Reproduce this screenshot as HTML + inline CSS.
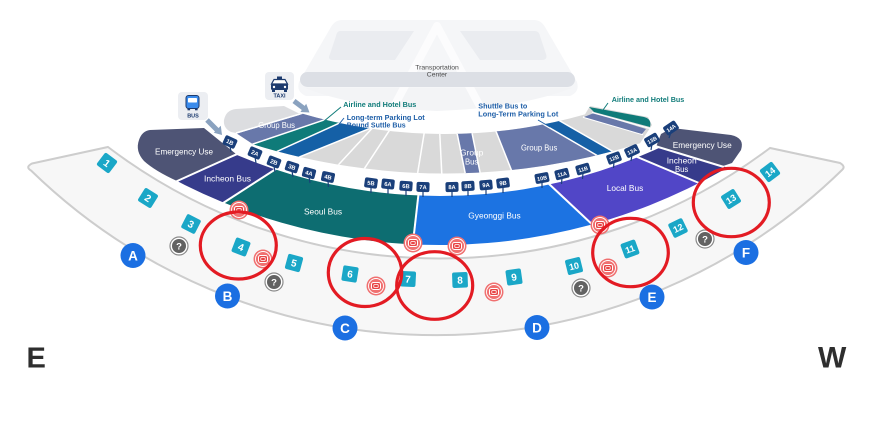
<!DOCTYPE html>
<html><head><meta charset="utf-8">
<style>
html,body{margin:0;padding:0;background:#fff;}
svg{display:block;}
</style></head><body>
<svg xmlns="http://www.w3.org/2000/svg" width="893" height="448" viewBox="0 0 893 448" font-family="'Liberation Sans', Arial, sans-serif">
<defs>
<clipPath id="ringL"><path d="M150,108.4 A524,524 0 0 0 740,101.6 L760,147.3 A573,573 0 0 1 130,153.9 Z"/></clipPath>
<clipPath id="ringU"><path d="M236,133 L300,113 A510,510 0 0 0 585,114.4 L590,106 L648,117 L652,125 L640,143.3 A645.5,645.5 0 0 1 253,144.3 Z"/></clipPath>
</defs>
<rect width="893" height="448" fill="#fff"/>

<!-- Transportation center -->
<path d="M342,20 L534,20 Q541,20 545,27 L577,82 Q580,92 570,96 L306,96 Q296,92 299,82 L331,27 Q335,20 342,20 Z" fill="#f5f6f8"/>
<path d="M340,31 L414,31 L395,60 L333,60 Q327,60 330,54 L336,36 Q337,31 340,31 Z" fill="#eaecf0"/>
<path d="M460,31 L535,31 Q539,31 540,36 L546,54 Q548,60 542,60 L480,60 Z" fill="#eaecf0"/>
<path d="M305,88 L572,88 Q520,108 437,111 Q355,108 305,88 Z" fill="#f3f4f6"/>
<path d="M437,26 L391,112 M437,26 L483,112" stroke="#fcfcfd" stroke-width="8" stroke-linecap="round" fill="none"/>
<rect x="300" y="72" width="275" height="15" rx="7.5" fill="#dcdfe5"/>
<text x="437" y="69.5" font-size="6.8" text-anchor="middle" fill="#4a4a4a">Transportation</text>
<text x="437" y="76.5" font-size="6.8" text-anchor="middle" fill="#4a4a4a">Center</text>

<!-- Walkway band -->
<path d="M32,163.5 L108,147 A549,549 0 0 0 770,148 L840,163 Q846,166.5 842,170 A581,581 0 0 1 31,170.5 Q25,167 32,163.5 Z" fill="#f7f7f7" stroke="#cdcdcd" stroke-width="2"/>

<!-- Upper ring -->
<g clip-path="url(#ringU)">
 <rect x="200" y="90" width="480" height="110" fill="#d9d9d9"/>
 <polygon points="216,139 320,108 340,114.6 240,148.4" fill="#6878aa"/>
 <polygon points="240,148.4 345,112.9 345,120.5 250,163.8" fill="#0f7b79"/>
 <polygon points="250,163.8 380,104.6 380,124.3 280,164.8" fill="#1560a6"/>
 <polygon points="456,128 471,128 482,182 467,182" fill="#6878aa"/>
 <polygon points="492.7,123 532,117.6 609,162.4 517.5,185.4" fill="#6878aa"/>
 <polygon points="532,117.6 549.6,115 622.4,157 609,162.4" fill="#1560a6"/>
 <g stroke="#fff" stroke-width="1.5">
  <line x1="216" y1="139" x2="320" y2="108"/>
  <line x1="240" y1="148.4" x2="340" y2="114.6"/>
  <line x1="250" y1="163.8" x2="380" y2="104.6"/>
  <line x1="280" y1="164.8" x2="380" y2="124.3"/>
  <line x1="377" y1="123" x2="329" y2="175"/>
  <line x1="393" y1="125" x2="358" y2="178.3"/>
  <line x1="425" y1="128" x2="416.5" y2="180"/>
  <line x1="439.5" y1="128" x2="442.2" y2="182"/>
  <line x1="456" y1="128" x2="467" y2="182"/>
  <line x1="471" y1="128" x2="482" y2="182"/>
  <line x1="492.7" y1="123" x2="517.5" y2="185.4"/>
  <line x1="532" y1="117.6" x2="609" y2="162.4"/>
  <line x1="549.6" y1="115" x2="622.4" y2="157"/>
  <line x1="583" y1="117" x2="643" y2="134.5"/>
 </g>
</g>
<path d="M594,113 L646,129 L642,134 L584,117 Z" fill="#6878aa"/>
<path d="M589,107 L644,117 Q652,119 650,127 L594,112 Z" fill="#0f7b79"/>
<line x1="592" y1="112.5" x2="650" y2="128.5" stroke="#fff" stroke-width="1.2"/>
<path d="M231,132 Q223,128 224,120 Q226,110 236,109 L284,106 L300,114 L236,133 Z" fill="#dcdde0"/>
<line x1="236" y1="133" x2="300" y2="114" stroke="#fff" stroke-width="1.5"/>

<!-- Lower colored ring -->
<g clip-path="url(#ringL)">
 <polygon points="150,191.2 260,145.7 300,153.4 200,217" fill="#363b8b"/>
 <polygon points="200,217 300,153.4 421.3,170 409.8,260" fill="#0d6d71"/>
 <polygon points="421.3,170 535,171 610,240.8 409.8,260" fill="#1c73e2"/>
 <polygon points="535,171 620,149.9 715,189.5 610,240.8" fill="#5146c7"/>
 <polygon points="620,149.9 640,142.2 745,172.8 715,189.5" fill="#363b8b"/>
</g>
<path d="M150,130 L204,128 L236,154 L177,181 Q155,171 144,161 Q135,151 139,140 Q142,131 150,130 Z" fill="#4e5475"/>
<path d="M656,147 L661,134 L672,128 L731,135 Q745,138 741,150 L732,163 L723,166 Z" fill="#4e5475"/>
<g stroke="#fff" stroke-width="2">
 <line x1="237" y1="154" x2="175" y2="182"/>
 <line x1="279" y1="167" x2="220" y2="205"/>
 <line x1="418.5" y1="194" x2="412.5" y2="247"/>
 <line x1="548" y1="183" x2="596" y2="228"/>
 <line x1="635" y1="156" x2="699" y2="183"/>
 <line x1="655" y1="146" x2="724" y2="167"/>
</g>

<!-- Region labels -->
<g fill="#fff" font-size="8.5">
 <text x="155" y="154.5" textLength="58" lengthAdjust="spacingAndGlyphs">Emergency Use</text>
 <text x="204" y="181.5" textLength="47" lengthAdjust="spacingAndGlyphs">Incheon Bus</text>
 <text x="304" y="214.3" textLength="38" lengthAdjust="spacingAndGlyphs">Seoul Bus</text>
 <text x="468.3" y="218.5" textLength="52.4" lengthAdjust="spacingAndGlyphs">Gyeonggi Bus</text>
 <text x="606.7" y="191" textLength="36.6" lengthAdjust="spacingAndGlyphs">Local Bus</text>
 <text x="666.7" y="163.3" textLength="30" lengthAdjust="spacingAndGlyphs">Incheon</text>
 <text x="675" y="172" textLength="13.3" lengthAdjust="spacingAndGlyphs">Bus</text>
 <text x="672.7" y="148" textLength="59" lengthAdjust="spacingAndGlyphs">Emergency Use</text>
 <text x="258.3" y="128" font-size="8" textLength="36.7" lengthAdjust="spacingAndGlyphs">Group Bus</text>
 <text x="521" y="150.5" font-size="8" textLength="36.3" lengthAdjust="spacingAndGlyphs">Group Bus</text>
 <text x="460" y="155.5" font-size="8" textLength="23.3" lengthAdjust="spacingAndGlyphs">Group</text>
 <text x="465" y="164.3" font-size="8" textLength="13.3" lengthAdjust="spacingAndGlyphs">Bus</text>
</g>

<!-- Stop labels -->
<g fill="#1a3f7a" font-size="5.8" font-weight="bold" text-anchor="middle">
 <g stroke="#1a3f7a" stroke-width="1.2">
  <line x1="230" y1="146" x2="231" y2="152"/>
  <line x1="255" y1="157" x2="256" y2="163"/>
  <line x1="274" y1="166" x2="275" y2="172"/>
  <line x1="292" y1="171" x2="293" y2="177"/>
  <line x1="309" y1="177" x2="310" y2="183"/>
  <line x1="328" y1="181" x2="328.5" y2="187"/>
  <line x1="371" y1="187" x2="371" y2="193"/>
  <line x1="388" y1="188" x2="388" y2="194"/>
  <line x1="406" y1="190" x2="406" y2="196"/>
  <line x1="423" y1="191" x2="423" y2="197"/>
  <line x1="452" y1="191" x2="452" y2="197"/>
  <line x1="468" y1="190" x2="468" y2="196"/>
  <line x1="486" y1="189" x2="486" y2="195"/>
  <line x1="503" y1="187" x2="503" y2="193"/>
  <line x1="542" y1="182" x2="542" y2="188"/>
  <line x1="562" y1="178" x2="561.5" y2="184"/>
  <line x1="583" y1="173" x2="582.5" y2="179"/>
  <line x1="614" y1="162" x2="613.5" y2="168"/>
  <line x1="632" y1="155" x2="631" y2="161"/>
  <line x1="652" y1="144" x2="651" y2="150"/>
  <line x1="671" y1="132" x2="669" y2="138"/>
 </g>
 <g transform="translate(230,142) rotate(25)"><rect x="-6.5" y="-5" width="13" height="10" rx="2"/><text y="2.1" fill="#fff">1B</text></g>
 <g transform="translate(255,153) rotate(23)"><rect x="-6.5" y="-5" width="13" height="10" rx="2"/><text y="2.1" fill="#fff">2A</text></g>
 <g transform="translate(274,162) rotate(21)"><rect x="-6.5" y="-5" width="13" height="10" rx="2"/><text y="2.1" fill="#fff">2B</text></g>
 <g transform="translate(292,167) rotate(18)"><rect x="-6.5" y="-5" width="13" height="10" rx="2"/><text y="2.1" fill="#fff">3B</text></g>
 <g transform="translate(309,173) rotate(15)"><rect x="-6.5" y="-5" width="13" height="10" rx="2"/><text y="2.1" fill="#fff">4A</text></g>
 <g transform="translate(328,177) rotate(12)"><rect x="-6.5" y="-5" width="13" height="10" rx="2"/><text y="2.1" fill="#fff">4B</text></g>
 <g transform="translate(371,183) rotate(8)"><rect x="-6.5" y="-5" width="13" height="10" rx="2"/><text y="2.1" fill="#fff">5B</text></g>
 <g transform="translate(388,184) rotate(6)"><rect x="-6.5" y="-5" width="13" height="10" rx="2"/><text y="2.1" fill="#fff">6A</text></g>
 <g transform="translate(406,186) rotate(4)"><rect x="-6.5" y="-5" width="13" height="10" rx="2"/><text y="2.1" fill="#fff">6B</text></g>
 <g transform="translate(423,187) rotate(2)"><rect x="-6.5" y="-5" width="13" height="10" rx="2"/><text y="2.1" fill="#fff">7A</text></g>
 <g transform="translate(452,187) rotate(-1)"><rect x="-6.5" y="-5" width="13" height="10" rx="2"/><text y="2.1" fill="#fff">8A</text></g>
 <g transform="translate(468,186) rotate(-3)"><rect x="-6.5" y="-5" width="13" height="10" rx="2"/><text y="2.1" fill="#fff">8B</text></g>
 <g transform="translate(486,185) rotate(-5)"><rect x="-6.5" y="-5" width="13" height="10" rx="2"/><text y="2.1" fill="#fff">9A</text></g>
 <g transform="translate(503,183) rotate(-7)"><rect x="-6.5" y="-5" width="13" height="10" rx="2"/><text y="2.1" fill="#fff">9B</text></g>
 <g transform="translate(542,178) rotate(-11)"><rect x="-7" y="-5" width="14" height="10" rx="2"/><text y="2.1" fill="#fff" font-size="5.4">10B</text></g>
 <g transform="translate(562,174) rotate(-14)"><rect x="-7" y="-5" width="14" height="10" rx="2"/><text y="2.1" fill="#fff" font-size="5.4">11A</text></g>
 <g transform="translate(583,169) rotate(-16)"><rect x="-7" y="-5" width="14" height="10" rx="2"/><text y="2.1" fill="#fff" font-size="5.4">11B</text></g>
 <g transform="translate(614,158) rotate(-20)"><rect x="-7" y="-5" width="14" height="10" rx="2"/><text y="2.1" fill="#fff" font-size="5.4">12B</text></g>
 <g transform="translate(632,151) rotate(-25)"><rect x="-7" y="-5" width="14" height="10" rx="2"/><text y="2.1" fill="#fff" font-size="5.4">13A</text></g>
 <g transform="translate(652,140) rotate(-30)"><rect x="-7" y="-5" width="14" height="10" rx="2"/><text y="2.1" fill="#fff" font-size="5.4">13B</text></g>
 <g transform="translate(671,128) rotate(-34)"><rect x="-7" y="-5" width="14" height="10" rx="2"/><text y="2.1" fill="#fff" font-size="5.4">14A</text></g>
</g>

<!-- Annotations -->
<g font-size="7.5" font-weight="bold">
 <text x="343.3" y="107" fill="#117c7a" textLength="73" lengthAdjust="spacingAndGlyphs">Airline and Hotel Bus</text>
 <text x="346.7" y="119.8" fill="#1f5fa8" textLength="78" lengthAdjust="spacingAndGlyphs">Long-term Parking Lot</text>
 <text x="346.7" y="127.5" fill="#1f5fa8" textLength="59" lengthAdjust="spacingAndGlyphs">Bound Suttle Bus</text>
 <text x="478.3" y="108.3" fill="#1f5fa8" textLength="49" lengthAdjust="spacingAndGlyphs">Shuttle Bus to</text>
 <text x="478.3" y="116.5" fill="#1f5fa8" textLength="80" lengthAdjust="spacingAndGlyphs">Long-Term Parking Lot</text>
 <text x="611.7" y="102" fill="#117c7a" textLength="72.6" lengthAdjust="spacingAndGlyphs">Airline and Hotel Bus</text>
</g>
<line x1="341" y1="107" x2="323" y2="122" stroke="#117c7a" stroke-width="1"/>
<line x1="344" y1="118" x2="336" y2="128" stroke="#1f5fa8" stroke-width="1"/>
<line x1="538" y1="120" x2="550" y2="127" stroke="#1f5fa8" stroke-width="1"/>
<line x1="608" y1="103" x2="603" y2="110" stroke="#117c7a" stroke-width="1"/>

<!-- Bus icon -->
<rect x="178" y="92" width="30" height="28" rx="4" fill="#eceef2"/>
<rect x="186" y="95.5" width="13" height="13" rx="2.5" fill="#3a8bec" stroke="#1d3b6e" stroke-width="1"/>
<rect x="188" y="98" width="9" height="4.5" rx="0.8" fill="#fff"/>
<rect x="187.5" y="108.3" width="2.6" height="2" fill="#1d3b6e"/>
<rect x="195" y="108.3" width="2.6" height="2" fill="#1d3b6e"/>
<text x="193" y="117.3" font-size="5.5" font-weight="bold" fill="#1d3b6e" text-anchor="middle">BUS</text>
<!-- Taxi icon -->
<rect x="265" y="72" width="29" height="28" rx="4" fill="#eceef2"/>
<rect x="277" y="76.5" width="5" height="2.5" fill="#1d3b6e"/>
<path d="M274,79.5 L285,79.5 L287.5,84 L271.5,84 Z" fill="#fff" stroke="#1d3b6e" stroke-width="1.2"/>
<rect x="271" y="84" width="17" height="6" rx="1.5" fill="#1d3b6e"/>
<circle cx="274" cy="87" r="1.2" fill="#fff"/>
<circle cx="285" cy="87" r="1.2" fill="#fff"/>
<rect x="272" y="90" width="3" height="2" fill="#1d3b6e"/>
<rect x="284" y="90" width="3" height="2" fill="#1d3b6e"/>
<text x="279.5" y="97.5" font-size="5.5" font-weight="bold" fill="#1d3b6e" text-anchor="middle">TAXI</text>
<!-- Arrows -->
<line x1="207" y1="120" x2="217" y2="130" stroke="#8aa2bf" stroke-width="5"/>
<polygon points="222,135 213.8,132.8 220.8,125.8" fill="#8aa2bf"/>
<line x1="294" y1="101" x2="304" y2="108.5" stroke="#8aa2bf" stroke-width="5"/>
<polygon points="309.5,112.5 300.4,112 306.2,103.8" fill="#8aa2bf"/>

<!-- Numbered squares -->
<g font-weight="bold" text-anchor="middle" fill="#fff">
 <g transform="translate(107,163) rotate(37)"><rect x="-7.75" y="-7.75" width="15.5" height="15.5" rx="2" fill="#1aa7c7"/><text y="3.6" font-size="10">1</text></g>
 <g transform="translate(148,198) rotate(32)"><rect x="-7.75" y="-7.75" width="15.5" height="15.5" rx="2" fill="#1aa7c7"/><text y="3.6" font-size="10">2</text></g>
 <g transform="translate(191,224) rotate(27)"><rect x="-7.75" y="-7.75" width="15.5" height="15.5" rx="2" fill="#1aa7c7"/><text y="3.6" font-size="10">3</text></g>
 <g transform="translate(241,247) rotate(21)"><rect x="-7.75" y="-7.75" width="15.5" height="15.5" rx="2" fill="#1aa7c7"/><text y="3.6" font-size="10">4</text></g>
 <g transform="translate(294,263) rotate(15)"><rect x="-7.75" y="-7.75" width="15.5" height="15.5" rx="2" fill="#1aa7c7"/><text y="3.6" font-size="10">5</text></g>
 <g transform="translate(350,274) rotate(9)"><rect x="-7.75" y="-7.75" width="15.5" height="15.5" rx="2" fill="#1aa7c7"/><text y="3.6" font-size="10">6</text></g>
 <g transform="translate(408,279) rotate(3)"><rect x="-7.75" y="-7.75" width="15.5" height="15.5" rx="2" fill="#1aa7c7"/><text y="3.6" font-size="10">7</text></g>
 <g transform="translate(460,280) rotate(-2)"><rect x="-7.75" y="-7.75" width="15.5" height="15.5" rx="2" fill="#1aa7c7"/><text y="3.6" font-size="10">8</text></g>
 <g transform="translate(514,277) rotate(-8)"><rect x="-7.75" y="-7.75" width="15.5" height="15.5" rx="2" fill="#1aa7c7"/><text y="3.6" font-size="10">9</text></g>
 <g transform="translate(574,266) rotate(-14)"><rect x="-7.75" y="-7.75" width="15.5" height="15.5" rx="2" fill="#1aa7c7"/><text y="3.3" font-size="9">10</text></g>
 <g transform="translate(630,249) rotate(-20)"><rect x="-7.75" y="-7.75" width="15.5" height="15.5" rx="2" fill="#1aa7c7"/><text y="3.3" font-size="9">11</text></g>
 <g transform="translate(678,228) rotate(-26)"><rect x="-7.75" y="-7.75" width="15.5" height="15.5" rx="2" fill="#1aa7c7"/><text y="3.3" font-size="9">12</text></g>
 <g transform="translate(731,199) rotate(-32)"><rect x="-7.75" y="-7.75" width="15.5" height="15.5" rx="2" fill="#1aa7c7"/><text y="3.3" font-size="9">13</text></g>
 <g transform="translate(770,172) rotate(-37)"><rect x="-7.75" y="-7.75" width="15.5" height="15.5" rx="2" fill="#1aa7c7"/><text y="3.3" font-size="9">14</text></g>
</g>

<!-- Letter circles -->
<g font-weight="bold" text-anchor="middle" font-size="13.5" fill="#fff">
 <circle cx="133" cy="255.5" r="12.5" fill="#1b6fe2"/><text x="133" y="260.5">A</text>
 <circle cx="227.5" cy="296" r="12.5" fill="#1b6fe2"/><text x="227.5" y="301">B</text>
 <circle cx="345" cy="328" r="12.5" fill="#1b6fe2"/><text x="345" y="333">C</text>
 <circle cx="537" cy="327.5" r="12.5" fill="#1b6fe2"/><text x="537" y="332.5">D</text>
 <circle cx="652" cy="297" r="12.5" fill="#1b6fe2"/><text x="652" y="302">E</text>
 <circle cx="746" cy="252.5" r="12.5" fill="#1b6fe2"/><text x="746" y="257.5">F</text>
</g>

<!-- Restroom icons -->
<g>
 <g transform="translate(239,210)"><circle r="9.5" fill="#f07070"/><circle r="7.5" fill="none" stroke="#fff" stroke-width="0.9"/><rect x="-4.5" y="-3.5" width="9" height="7" rx="2" fill="#e84545" stroke="#fff" stroke-width="1"/><rect x="-2.2" y="-1.5" width="4.4" height="3" rx="0.8" fill="none" stroke="#fff" stroke-width="0.8"/></g>
 <g transform="translate(263,259)"><circle r="9.5" fill="#f07070"/><circle r="7.5" fill="none" stroke="#fff" stroke-width="0.9"/><rect x="-4.5" y="-3.5" width="9" height="7" rx="2" fill="#e84545" stroke="#fff" stroke-width="1"/><rect x="-2.2" y="-1.5" width="4.4" height="3" rx="0.8" fill="none" stroke="#fff" stroke-width="0.8"/></g>
 <g transform="translate(376,286)"><circle r="9.5" fill="#f07070"/><circle r="7.5" fill="none" stroke="#fff" stroke-width="0.9"/><rect x="-4.5" y="-3.5" width="9" height="7" rx="2" fill="#e84545" stroke="#fff" stroke-width="1"/><rect x="-2.2" y="-1.5" width="4.4" height="3" rx="0.8" fill="none" stroke="#fff" stroke-width="0.8"/></g>
 <g transform="translate(413,243)"><circle r="9.5" fill="#f07070"/><circle r="7.5" fill="none" stroke="#fff" stroke-width="0.9"/><rect x="-4.5" y="-3.5" width="9" height="7" rx="2" fill="#e84545" stroke="#fff" stroke-width="1"/><rect x="-2.2" y="-1.5" width="4.4" height="3" rx="0.8" fill="none" stroke="#fff" stroke-width="0.8"/></g>
 <g transform="translate(457,246)"><circle r="9.5" fill="#f07070"/><circle r="7.5" fill="none" stroke="#fff" stroke-width="0.9"/><rect x="-4.5" y="-3.5" width="9" height="7" rx="2" fill="#e84545" stroke="#fff" stroke-width="1"/><rect x="-2.2" y="-1.5" width="4.4" height="3" rx="0.8" fill="none" stroke="#fff" stroke-width="0.8"/></g>
 <g transform="translate(494,292)"><circle r="9.5" fill="#f07070"/><circle r="7.5" fill="none" stroke="#fff" stroke-width="0.9"/><rect x="-4.5" y="-3.5" width="9" height="7" rx="2" fill="#e84545" stroke="#fff" stroke-width="1"/><rect x="-2.2" y="-1.5" width="4.4" height="3" rx="0.8" fill="none" stroke="#fff" stroke-width="0.8"/></g>
 <g transform="translate(600,225)"><circle r="9.5" fill="#f07070"/><circle r="7.5" fill="none" stroke="#fff" stroke-width="0.9"/><rect x="-4.5" y="-3.5" width="9" height="7" rx="2" fill="#e84545" stroke="#fff" stroke-width="1"/><rect x="-2.2" y="-1.5" width="4.4" height="3" rx="0.8" fill="none" stroke="#fff" stroke-width="0.8"/></g>
 <g transform="translate(608,268)"><circle r="9.5" fill="#f07070"/><circle r="7.5" fill="none" stroke="#fff" stroke-width="0.9"/><rect x="-4.5" y="-3.5" width="9" height="7" rx="2" fill="#e84545" stroke="#fff" stroke-width="1"/><rect x="-2.2" y="-1.5" width="4.4" height="3" rx="0.8" fill="none" stroke="#fff" stroke-width="0.8"/></g>
</g>

<!-- Info icons -->
<g font-weight="bold" text-anchor="middle" font-size="9.5">
 <g transform="translate(179,246)"><circle r="9" fill="#fff" stroke="#8a8a8a" stroke-width="1.2"/><circle r="7" fill="#626262"/><text y="3.4" fill="#fff">?</text></g>
 <g transform="translate(274,282)"><circle r="9" fill="#fff" stroke="#8a8a8a" stroke-width="1.2"/><circle r="7" fill="#626262"/><text y="3.4" fill="#fff">?</text></g>
 <g transform="translate(581,288)"><circle r="9" fill="#fff" stroke="#8a8a8a" stroke-width="1.2"/><circle r="7" fill="#626262"/><text y="3.4" fill="#fff">?</text></g>
 <g transform="translate(705,239)"><circle r="9" fill="#fff" stroke="#8a8a8a" stroke-width="1.2"/><circle r="7" fill="#626262"/><text y="3.4" fill="#fff">?</text></g>
</g>

<!-- Red annotation circles -->
<g fill="none" stroke="#e31b23" stroke-width="3.2">
 <ellipse cx="238.3" cy="245.5" rx="38" ry="33.5"/>
 <ellipse cx="365" cy="272.5" rx="36.7" ry="34"/>
 <ellipse cx="434.7" cy="285.5" rx="38" ry="33.8"/>
 <ellipse cx="630.5" cy="252.5" rx="37.8" ry="34.2"/>
 <ellipse cx="731.3" cy="202.5" rx="38" ry="34.2"/>
</g>

<!-- Compass letters -->
<text x="26.5" y="367.3" font-size="29" font-weight="bold" fill="#2e2e2e">E</text>
<text x="818" y="367.3" font-size="30" font-weight="bold" fill="#2e2e2e">W</text>
</svg>
</body></html>
